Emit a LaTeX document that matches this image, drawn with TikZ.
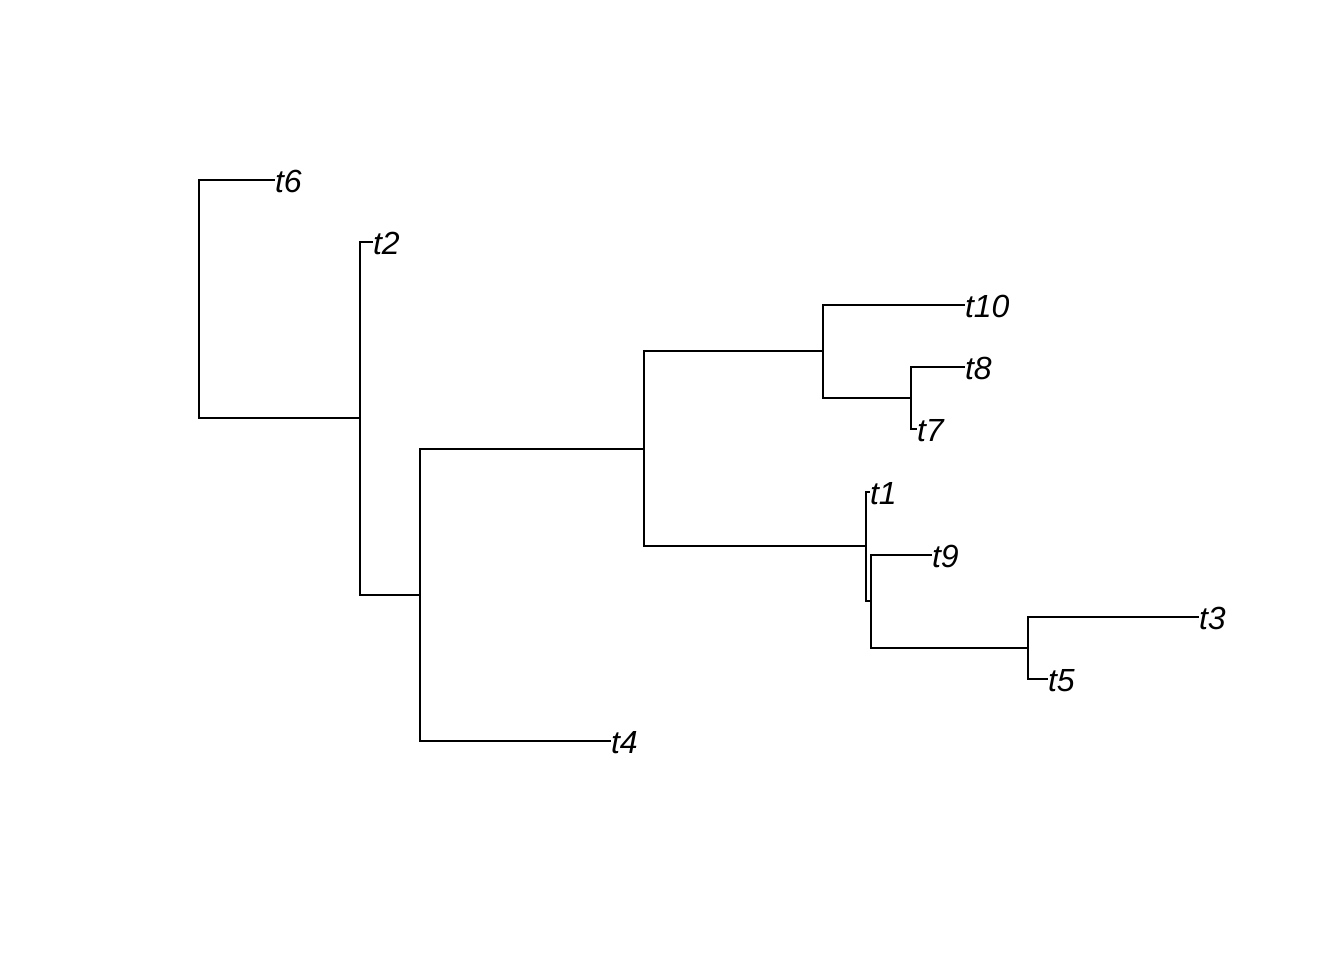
\documentclass[tikz,border=0pt]{standalone}
\usepackage{fontspec}
\setmainfont{Liberation Sans}
\begin{document}
\begin{tikzpicture}[x=1pt,y=-1pt,
  edge/.style={line width=2pt,line cap=rect},
  tip/.style={anchor=west,inner sep=0pt,outer sep=0pt,xshift=1pt,yshift=-1.5pt,font=\fontsize{32}{36}\selectfont\itshape}]
\useasboundingbox[fill=white] (0,0) rectangle (1344,960);
% internal nodes
\coordinate (R) at (199,299);
\coordinate (A) at (360,418);
\coordinate (B) at (420,595);
\coordinate (C) at (644,449);
\coordinate (D) at (823,351);
\coordinate (E) at (911,398);
\coordinate (F) at (866,546);
\coordinate (G) at (871,601);
\coordinate (H) at (1028,648);
% tip ends
\coordinate (e6) at (274,180);
\coordinate (e2) at (372,242);
\coordinate (e4) at (610,741);
\coordinate (e10) at (964,305);
\coordinate (e8) at (964,367);
\coordinate (e7) at (916,429);
\coordinate (e1) at (869,492);
\coordinate (e9) at (931,555);
\coordinate (e3) at (1198,617);
\coordinate (e5) at (1047,679);
% tips
\node[tip] (t6) at (e6) {t6};
\node[tip] (t2) at (e2) {t2};
\node[tip] (t4) at (e4) {t4};
\node[tip] (t10) at (e10) {t10};
\node[tip] (t8) at (e8) {t8};
\node[tip] (t7) at (e7) {t7};
\node[tip] (t1) at (e1) {t1};
\node[tip] (t9) at (e9) {t9};
\node[tip] (t3) at (e3) {t3};
\node[tip] (t5) at (e5) {t5};
% edges
\draw[edge] (R) |- (e6);
\draw[edge] (R) |- (A);
\draw[edge] (A) |- (e2);
\draw[edge] (A) |- (B);
\draw[edge] (B) |- (C);
\draw[edge] (B) |- (e4);
\draw[edge] (C) |- (D);
\draw[edge] (C) |- (F);
\draw[edge] (D) |- (e10);
\draw[edge] (D) |- (E);
\draw[edge] (E) |- (e8);
\draw[edge] (E) |- (e7);
\draw[edge] (F) |- (e1);
\draw[edge] (F) |- (G);
\draw[edge] (G) |- (e9);
\draw[edge] (G) |- (H);
\draw[edge] (H) |- (e3);
\draw[edge] (H) |- (e5);
\end{tikzpicture}
\end{document}
